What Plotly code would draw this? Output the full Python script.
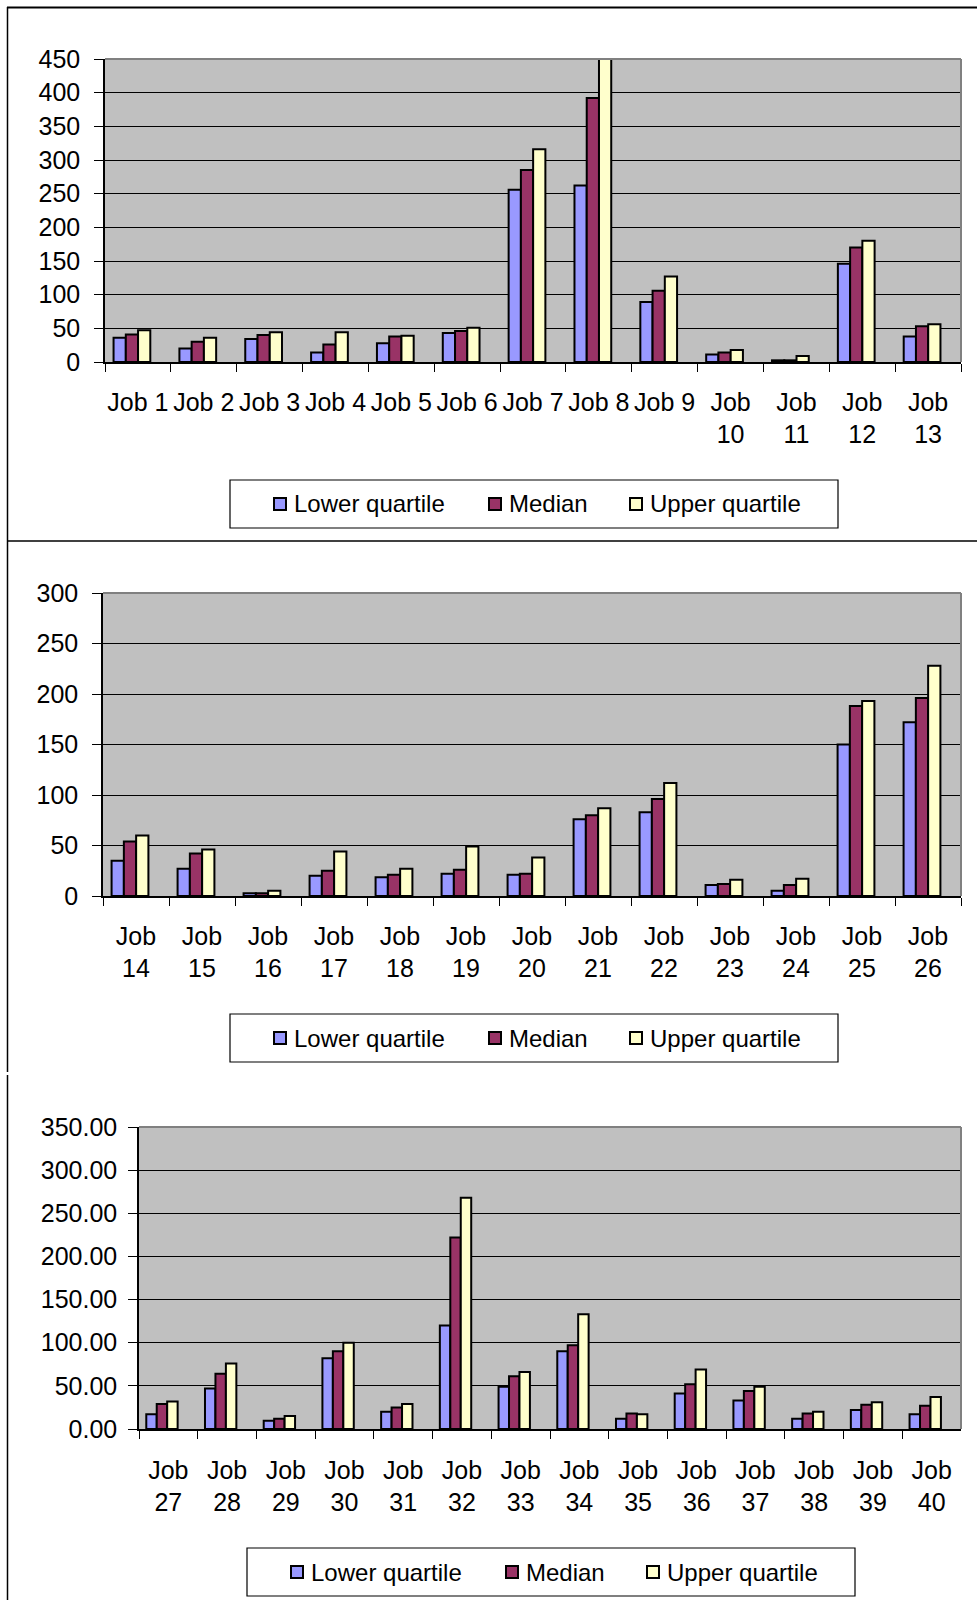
import plotly.graph_objects as go

# ---- data: pay quartiles per job, three charts ----
jobs_a = ["Job %d" % i for i in range(1, 14)]
labels_a = ["Job 1", "Job 2", "Job 3", "Job 4", "Job 5", "Job 6", "Job 7", "Job 8",
            "Job 9", "Job<br>10", "Job<br>11", "Job<br>12", "Job<br>13"]
lower_a = [36, 20, 34, 14, 28, 43, 256, 262, 89, 11, 2.5, 146, 38]
median_a = [41, 30, 40, 26, 38, 46, 285, 392, 106, 14, 2.5, 170, 53]
upper_a = [47, 36, 44, 44, 39, 51, 316, 470, 127, 18, 9, 180, 56]

jobs_b = ["Job %d" % i for i in range(14, 27)]
labels_b = ["Job<br>%d" % i for i in range(14, 27)]
lower_b = [35, 27, 2.6, 20, 18.5, 22, 21, 76, 83, 11, 5.3, 150, 172]
median_b = [54, 42, 2.6, 25, 21, 26, 22, 80, 96, 12, 11, 188, 196]
upper_b = [60, 46, 5.3, 44, 27, 49, 38, 87, 112, 16, 17, 193, 228]

jobs_c = ["Job %d" % i for i in range(27, 41)]
labels_c = ["Job<br>%d" % i for i in range(27, 41)]
lower_c = [17, 47, 9.6, 82, 20, 120, 49, 90, 12, 41, 33, 12, 22, 17]
median_c = [29, 64, 12, 90, 25, 222, 61, 97, 18, 52, 44, 18, 28, 27]
upper_c = [32, 76, 15, 100, 29, 268, 66, 133, 17, 69, 49, 20, 31, 37]

series_names = ["Lower quartile", "Median", "Upper quartile"]
series_colors = ["#9999FF", "#993366", "#FFFFCC"]

W, H = 977, 1600
FONT = "Liberation Sans, Arial, sans-serif"


def px(x):
    return x / W


def py(y):
    return 1 - y / H


charts = [
    # (axis suffix, categories, tick labels, values, y max, tick format,
    #  plot box [left, top, right, bottom] in px, legend box [left, top, right, bottom],
    #  bar width and first-bar offset in category units, label standoffs x / y)
    ("", jobs_a, labels_a, (lower_a, median_a, upper_a), 450, "d",
     (105, 59, 961, 362), (230, 480, 838, 528), 0.186, -0.37, 17, 9),
    ("2", jobs_b, labels_b, (lower_b, median_b, upper_b), 300, "d",
     (103, 593, 961, 896), (230, 1014, 838, 1062), 0.186, -0.37, 17, 9),
    ("3", jobs_c, labels_c, (lower_c, median_c, upper_c), 350, ".2f",
     (139, 1127, 961, 1429), (247, 1548, 855, 1596), 0.178, -0.376, 18, 6),
]

fig = go.Figure()
shapes = []
annotations = []

for (suffix, cats, ticks, values, ymax, fmt, box, lbox,
     bw, boff, xstand, ystand) in charts:
    xa, ya = "x" + suffix, "y" + suffix
    for k, (name, color, vals) in enumerate(zip(series_names, series_colors, values)):
        fig.add_trace(go.Bar(
            x=cats, y=vals, name=name, xaxis=xa, yaxis=ya,
            width=bw, offset=boff + k * bw,
            marker=dict(color=color, line=dict(color="black", width=2)),
            showlegend=False,
        ))
    l, t, r, b = box
    axis_font = dict(family=FONT, size=25, color="black")
    fig.layout["xaxis" + suffix] = dict(
        domain=[px(l), px(r)], anchor=ya, type="category", automargin=False,
        tickvals=cats, ticktext=ticks, tickangle=0, tickson="boundaries",
        ticks="outside", ticklen=8, tickwidth=1.2, tickcolor="black",
        showline=True, linecolor="black", linewidth=1.5,
        showgrid=False, tickfont=axis_font, ticklabelstandoff=xstand,
        fixedrange=True,
    )
    fig.layout["yaxis" + suffix] = dict(
        domain=[py(b), py(t)], anchor=xa, range=[0, ymax], dtick=50,
        automargin=False,
        tickformat=fmt, ticks="outside", ticklen=9, tickwidth=1.2,
        tickcolor="black", showline=True, linecolor="black", linewidth=1.5,
        showgrid=True, gridcolor="black", gridwidth=1, zeroline=False,
        tickfont=axis_font, ticklabelstandoff=ystand, fixedrange=True,
    )
    # grey frame along the top and right of the plot area
    shapes.append(dict(type="line", xref="paper", yref="paper",
                       x0=px(l), x1=px(r), y0=py(t), y1=py(t),
                       line=dict(color="#808080", width=2), layer="above"))
    shapes.append(dict(type="line", xref="paper", yref="paper",
                       x0=px(r), x1=px(r), y0=py(b), y1=py(t),
                       line=dict(color="#808080", width=2), layer="above"))

    # legend box with swatches
    ll, lt, lr, lb = lbox
    shapes.append(dict(type="rect", xref="paper", yref="paper",
                       x0=px(ll), x1=px(lr), y0=py(lb), y1=py(lt),
                       line=dict(color="black", width=1.2), fillcolor="white"))
    cy = (lt + lb) / 2
    offsets = [44, 259, 400]
    for off, name, color in zip(offsets, series_names, series_colors):
        sx = ll + off
        shapes.append(dict(type="rect", xref="paper", yref="paper",
                           x0=px(sx), x1=px(sx + 12), y0=py(cy + 6), y1=py(cy - 6),
                           line=dict(color="black", width=2), fillcolor=color))
        annotations.append(dict(xref="paper", yref="paper", x=px(sx + 18), y=py(cy),
                                xanchor="left", yanchor="middle", showarrow=False,
                                text=name, font=dict(family=FONT, size=24, color="black")))

# outer frame of the sheet
shapes.append(dict(type="line", xref="paper", yref="paper",
                   x0=px(7.5), x1=px(7.5), y0=py(1072), y1=py(7),
                   line=dict(color="black", width=1.5)))
shapes.append(dict(type="line", xref="paper", yref="paper",
                   x0=px(7.5), x1=px(7.5), y0=py(1600), y1=py(1075),
                   line=dict(color="black", width=1.5)))
shapes.append(dict(type="line", xref="paper", yref="paper",
                   x0=px(7), x1=1, y0=py(7.5), y1=py(7.5),
                   line=dict(color="black", width=2)))
shapes.append(dict(type="line", xref="paper", yref="paper",
                   x0=px(7), x1=1, y0=py(541), y1=py(541),
                   line=dict(color="black", width=1.5)))

fig.update_layout(
    width=W, height=H, margin=dict(l=0, r=0, t=0, b=0, autoexpand=False),
    paper_bgcolor="white", plot_bgcolor="#C0C0C0",
    barmode="overlay",
    shapes=shapes, annotations=annotations, showlegend=False,
    font=dict(family=FONT, size=24, color="black"),
)

fig.write_html("out.html", config={"displayModeBar": False})
